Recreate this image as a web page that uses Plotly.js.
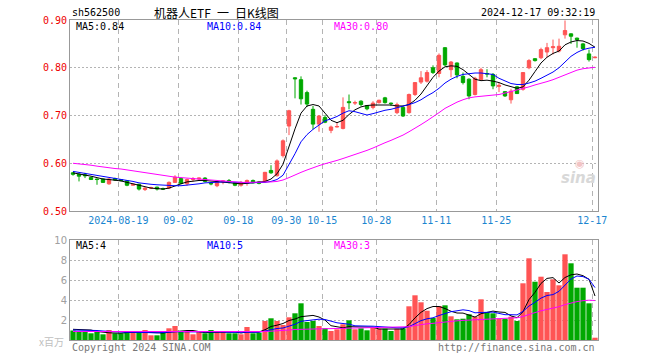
<!DOCTYPE html>
<html><head><meta charset="utf-8">
<script src="https://cdn.plot.ly/plotly-3.0.1.min.js"></script>
<style>html,body{margin:0;padding:0;background:#fff}#c{width:660px;height:360px}</style>
</head><body><div id="c"></div>
<script>
const dates = ["08-07","08-08","08-09","08-12","08-13","08-14","08-15","08-16","08-19","08-20","08-21","08-22","08-23","08-26","08-27","08-28","08-29","08-30","09-02","09-03","09-04","09-05","09-06","09-09","09-10","09-11","09-12","09-13","09-18","09-19","09-20","09-23","09-24","09-25","09-26","09-27","09-30","10-08","10-09","10-10","10-11","10-14","10-15","10-16","10-17","10-18","10-21","10-22","10-23","10-24","10-25","10-28","10-29","10-30","10-31","11-01","11-04","11-05","11-06","11-07","11-08","11-11","11-12","11-13","11-14","11-15","11-18","11-19","11-20","11-21","11-22","11-25","11-26","11-27","11-28","11-29","12-02","12-03","12-04","12-05","12-06","12-09","12-10","12-11","12-12","12-13","12-16","12-17"];
const tickDates = ["08-19","09-02","09-18","09-30","10-15","10-28","11-11","11-25","12-17"];
const tickLabels = ["2024-08-19","09-02","09-18","09-30","10-15","10-28","11-11","11-25","12-17"];

const open  = [0.580,0.577,0.576,0.570,0.567,0.567,0.557,0.568,0.566,0.563,0.554,0.556,0.545,0.548,0.550,0.547,0.548,0.560,0.568,0.557,0.566,0.567,0.569,0.558,0.553,0.561,0.564,0.559,0.554,0.558,0.564,0.561,0.562,0.585,0.574,0.616,0.678,0.779,0.775,0.748,0.713,0.682,0.696,0.669,0.676,0.673,0.729,0.726,0.730,0.721,0.717,0.727,0.737,0.726,0.706,0.717,0.706,0.744,0.770,0.772,0.800,0.788,0.842,0.796,0.810,0.782,0.776,0.744,0.775,0.788,0.786,0.761,0.750,0.733,0.760,0.755,0.800,0.819,0.821,0.833,0.842,0.835,0.869,0.871,0.862,0.850,0.829,0.821];
const high  = [0.582,0.579,0.580,0.572,0.568,0.568,0.569,0.570,0.567,0.564,0.557,0.557,0.550,0.551,0.551,0.549,0.562,0.575,0.570,0.568,0.571,0.570,0.571,0.560,0.563,0.565,0.567,0.560,0.563,0.566,0.566,0.563,0.582,0.596,0.608,0.650,0.712,0.780,0.782,0.752,0.720,0.701,0.701,0.679,0.686,0.738,0.744,0.731,0.732,0.722,0.730,0.733,0.739,0.727,0.727,0.719,0.746,0.770,0.793,0.795,0.805,0.830,0.843,0.814,0.811,0.790,0.778,0.781,0.800,0.797,0.789,0.769,0.751,0.756,0.762,0.791,0.818,0.820,0.842,0.852,0.859,0.861,0.899,0.872,0.863,0.852,0.838,0.824];
const low   = [0.574,0.562,0.569,0.565,0.555,0.559,0.555,0.563,0.562,0.552,0.553,0.543,0.542,0.546,0.543,0.544,0.546,0.559,0.556,0.553,0.562,0.563,0.560,0.554,0.550,0.556,0.558,0.552,0.551,0.553,0.558,0.556,0.560,0.578,0.572,0.612,0.659,0.736,0.723,0.718,0.671,0.666,0.684,0.663,0.675,0.671,0.713,0.722,0.719,0.711,0.713,0.725,0.725,0.720,0.703,0.697,0.704,0.741,0.766,0.769,0.787,0.780,0.803,0.780,0.778,0.765,0.734,0.742,0.773,0.780,0.755,0.749,0.739,0.725,0.745,0.752,0.797,0.813,0.818,0.822,0.828,0.832,0.861,0.850,0.842,0.836,0.813,0.820];
const close = [0.577,0.573,0.574,0.566,0.566,0.560,0.567,0.565,0.564,0.554,0.556,0.546,0.548,0.549,0.546,0.546,0.560,0.571,0.558,0.566,0.568,0.569,0.562,0.557,0.562,0.563,0.561,0.554,0.560,0.564,0.559,0.558,0.581,0.580,0.605,0.647,0.710,0.777,0.735,0.724,0.682,0.699,0.686,0.676,0.677,0.717,0.727,0.727,0.723,0.714,0.726,0.732,0.727,0.725,0.723,0.699,0.744,0.769,0.779,0.790,0.790,0.826,0.806,0.812,0.785,0.769,0.741,0.778,0.796,0.787,0.762,0.763,0.741,0.751,0.746,0.790,0.815,0.815,0.838,0.842,0.844,0.845,0.878,0.866,0.859,0.840,0.817,0.822];
const up = [false,false,false,false,false,false,true,false,false,false,true,false,true,true,false,false,true,true,false,true,true,true,false,false,true,true,false,false,true,true,false,false,true,false,true,true,true,false,false,false,false,true,false,true,true,true,false,true,false,false,true,true,false,false,true,false,true,true,true,true,false,true,false,true,false,false,false,true,true,false,false,true,false,true,false,true,true,false,true,true,true,true,true,false,false,false,false,true];

const ma5  = [0.580,0.578,0.576,0.573,0.570,0.567,0.566,0.565,0.563,0.560,0.557,0.553,0.550,0.548,0.547,0.546,0.548,0.553,0.557,0.561,0.563,0.564,0.564,0.563,0.561,0.560,0.560,0.558,0.557,0.558,0.559,0.560,0.562,0.567,0.578,0.598,0.636,0.672,0.705,0.720,0.723,0.720,0.705,0.690,0.685,0.690,0.702,0.712,0.718,0.721,0.722,0.722,0.722,0.722,0.720,0.720,0.723,0.732,0.745,0.762,0.780,0.793,0.802,0.804,0.803,0.796,0.785,0.776,0.773,0.774,0.772,0.769,0.764,0.760,0.757,0.760,0.774,0.792,0.810,0.822,0.830,0.835,0.848,0.854,0.857,0.856,0.851,0.843];
const ma10 = [0.583,0.581,0.579,0.577,0.574,0.572,0.570,0.568,0.566,0.564,0.562,0.559,0.557,0.556,0.555,0.554,0.553,0.553,0.553,0.554,0.555,0.557,0.559,0.560,0.561,0.561,0.561,0.561,0.560,0.559,0.559,0.560,0.560,0.562,0.566,0.575,0.597,0.620,0.645,0.660,0.671,0.680,0.689,0.693,0.698,0.705,0.710,0.708,0.704,0.701,0.704,0.708,0.711,0.713,0.716,0.719,0.723,0.727,0.733,0.741,0.748,0.757,0.768,0.776,0.782,0.786,0.788,0.789,0.789,0.788,0.786,0.778,0.772,0.767,0.765,0.765,0.768,0.772,0.778,0.784,0.791,0.800,0.812,0.824,0.832,0.838,0.841,0.843];
const ma30 = [0.600,0.599,0.598,0.596,0.594,0.592,0.590,0.589,0.588,0.586,0.584,0.582,0.580,0.578,0.576,0.574,0.573,0.571,0.570,0.569,0.567,0.566,0.565,0.564,0.563,0.562,0.561,0.561,0.560,0.560,0.560,0.560,0.560,0.561,0.562,0.565,0.570,0.576,0.581,0.586,0.591,0.595,0.599,0.602,0.606,0.610,0.614,0.618,0.622,0.627,0.632,0.638,0.643,0.648,0.653,0.659,0.666,0.673,0.681,0.689,0.697,0.706,0.715,0.722,0.728,0.733,0.737,0.739,0.740,0.741,0.742,0.744,0.747,0.750,0.753,0.757,0.760,0.764,0.767,0.771,0.775,0.780,0.786,0.791,0.795,0.798,0.800,0.801];

const volume = [0.95,0.8,0.8,0.67,0.8,0.57,1.0,0.67,0.67,0.8,0.8,0.8,1.0,0.47,0.47,0.8,1.17,1.4,0.8,0.8,0.57,0.8,0.67,1.0,0.8,0.8,0.67,0.67,0.57,1.3,0.67,0.73,1.9,2.17,1.9,1.5,2.27,2.67,3.67,1.8,1.9,1.4,1.17,0.9,1.07,1.57,1.97,1.07,1.17,0.97,1.2,1.13,1.13,0.9,1.13,1.17,3.37,4.47,3.77,2.93,2.2,3.4,3.47,2.37,2.07,2.13,2.57,2.33,4.07,2.8,2.67,2.13,2.13,2.33,1.9,5.67,8.17,5.83,6.33,4.8,6.07,5.47,8.57,7.67,5.23,5.23,3.67,0.23];
const vma5  = [1.07,1.07,1.06,1.0,0.85,0.75,0.72,0.7,0.68,0.75,0.78,0.76,0.8,0.75,0.7,0.7,0.78,0.86,0.93,0.95,0.95,0.87,0.73,0.77,0.77,0.8,0.8,0.8,0.7,0.8,0.78,0.8,1.03,1.35,1.48,1.65,1.95,2.1,2.33,2.38,2.46,2.3,1.99,1.43,1.29,1.22,1.33,1.32,1.35,1.35,1.28,1.1,1.12,1.07,1.1,1.1,1.54,2.21,2.77,3.14,3.35,3.35,3.15,2.87,2.7,2.69,2.52,2.29,2.63,2.78,2.89,2.8,2.76,2.41,2.23,2.83,4.04,4.77,5.66,6.16,6.24,5.7,6.25,6.52,6.6,6.43,6.07,4.4];
const vma10 = [1.0,1.0,1.0,1.0,0.95,0.9,0.85,0.8,0.78,0.77,0.77,0.75,0.76,0.72,0.72,0.75,0.8,0.82,0.82,0.82,0.83,0.82,0.8,0.85,0.83,0.8,0.77,0.77,0.74,0.8,0.78,0.78,0.9,1.05,1.15,1.2,1.37,1.57,1.87,1.95,2.05,2.08,2.05,1.88,1.72,1.65,1.58,1.42,1.37,1.39,1.38,1.36,1.3,1.26,1.22,1.22,1.33,1.66,1.94,2.12,2.22,2.45,2.68,2.83,2.92,3.02,2.94,2.72,2.75,2.74,2.79,2.66,2.53,2.53,2.51,2.86,3.4,3.77,4.19,4.45,4.54,4.87,5.5,6.1,6.4,6.34,6.07,5.24];
const vma30 = [0.85,0.85,0.85,0.84,0.84,0.84,0.83,0.83,0.83,0.83,0.82,0.82,0.82,0.82,0.81,0.81,0.81,0.81,0.81,0.81,0.8,0.8,0.8,0.8,0.8,0.8,0.8,0.8,0.8,0.8,0.8,0.8,0.85,0.88,0.9,0.95,1.0,1.05,1.08,1.1,1.12,1.13,1.13,1.14,1.15,1.17,1.2,1.22,1.24,1.24,1.24,1.25,1.25,1.25,1.26,1.27,1.33,1.45,1.55,1.62,1.67,1.75,1.83,1.88,1.92,1.96,2.0,2.03,2.08,2.1,2.13,2.15,2.17,2.2,2.22,2.35,2.58,2.74,2.92,3.04,3.2,3.33,3.54,3.72,3.84,3.93,3.98,3.95];

const RED = "#ff5454", GREEN = "#00a800";
const xs = dates.map((d, i) => i);
// dashed day lines sit just left of the candle centre in the original
const tickvals = tickDates.map(d => dates.indexOf(d) - 0.45);
const volColors = up.map(u => u ? RED : GREEN);
const mono = "DejaVu Sans Mono";

const traces = [
  {type: "candlestick", x: xs, open: open, high: high, low: low, close: close, xaxis: "x", yaxis: "y",
   increasing: {line: {color: RED, width: 1}, fillcolor: RED},
   decreasing: {line: {color: GREEN, width: 1}, fillcolor: GREEN}, hoverinfo: "skip"},
  {type: "scatter", mode: "lines", x: xs, y: ma5, line: {color: "#000000", width: 1}, xaxis: "x", yaxis: "y"},
  {type: "scatter", mode: "lines", x: xs, y: ma10, line: {color: "#0000ff", width: 1}, xaxis: "x", yaxis: "y"},
  {type: "scatter", mode: "lines", x: xs, y: ma30, line: {color: "#ff00ff", width: 1}, xaxis: "x", yaxis: "y"},
  {type: "bar", x: xs, y: volume, marker: {color: volColors, line: {width: 0}}, xaxis: "x2", yaxis: "y2"},
  {type: "scatter", mode: "lines", x: xs, y: vma5, line: {color: "#000000", width: 1}, xaxis: "x2", yaxis: "y2"},
  {type: "scatter", mode: "lines", x: xs, y: vma10, line: {color: "#0000ff", width: 1}, xaxis: "x2", yaxis: "y2"},
  {type: "scatter", mode: "lines", x: xs, y: vma30, line: {color: "#ff00ff", width: 1}, xaxis: "x2", yaxis: "y2"}
];

const gridC = "#b4b4b4", frameC = "#999999";
function px2x(p) { return (p - 70) / 528; }
function py2y(p) { return (340 - p) / 320; }
function ann(text, px, py, color, xanchor, size, family) {
  return {text: text, x: px2x(px), y: py2y(py), xref: "paper", yref: "paper", xanchor: xanchor, yanchor: "middle",
          showarrow: false, font: {family: family || mono, size: size || 10, color: color}};
}

const layout = {
  width: 660, height: 360, margin: {l: 70, r: 62, t: 20, b: 20},
  paper_bgcolor: "#ffffff", plot_bgcolor: "#ffffff", showlegend: false, bargap: 0.12, boxgap: 0.2,
  xaxis: {domain: [0, 1], anchor: "y", range: [-0.5, 87.5], tickvals: tickvals, ticktext: tickLabels,
          tickfont: {family: mono, size: 10, color: "#1a86d0"}, ticks: "", showgrid: true, gridcolor: gridC,
          griddash: "5px,4px", gridwidth: 1, showline: true, mirror: true, linecolor: frameC, linewidth: 1,
          zeroline: false, rangeslider: {visible: false}, fixedrange: true},
  yaxis: {domain: [0.403, 1], anchor: "x", range: [0.5, 0.9], tickvals: [0.5, 0.6, 0.7, 0.8, 0.9], tickformat: ".2f",
          tickfont: {family: mono, size: 10, color: "#ee0000"}, ticks: "", showgrid: true, gridcolor: gridC,
          griddash: "2px,2px", showline: true, mirror: true, linecolor: frameC, linewidth: 1, zeroline: false},
  xaxis2: {domain: [0, 1], anchor: "y2", matches: "x", range: [-0.5, 87.5], tickvals: tickvals, showticklabels: false,
           ticks: "", showgrid: true, gridcolor: gridC, griddash: "5px,4px", showline: true, mirror: true,
           linecolor: frameC, linewidth: 1, zeroline: false},
  yaxis2: {domain: [0, 0.3125], anchor: "x2", range: [0, 10], tickvals: [2, 4, 6, 8, 10],
           tickfont: {family: "DejaVu Sans", size: 10, color: "#a0a0a0"}, ticks: "", showgrid: true, gridcolor: gridC,
           griddash: "2px,2px", showline: true, mirror: true, linecolor: frameC, linewidth: 1, zeroline: false},
  annotations: [
    ann("sh562500", 70, 12, "#000", "left"),
    ann("机器人ETF\u2002一\u2002日K线图", 216, 12, "#000", "center", 12, "Noto Sans CJK SC"),
    ann("2024-12-17 09:32:19", 597, 12, "#000", "right"),
    ann("MA5:0.84", 74, 27, "#000000", "left"),
    ann("MA10:0.84", 205, 27, "#0000ff", "left"),
    ann("MA30:0.80", 332, 27, "#ff00ff", "left"),
    ann("MA5:4", 74, 245, "#000000", "left"),
    ann("MA10:5", 205, 245, "#0000ff", "left"),
    ann("MA30:3", 332, 245, "#ff00ff", "left"),
    ann("x百万", 66, 341, "#c0c0c0", "right", 10, "Noto Sans CJK SC"),
    ann("Copyright 2024 SINA.COM", 70, 347, "#777777", "left"),
    ann("http://finance.sina.com.cn", 597, 347, "#777777", "right"),
    {text: "<b><i>sina</i></b>", x: px2x(578), y: py2y(178), xref: "paper", yref: "paper", xanchor: "center",
     yanchor: "middle", showarrow: false, font: {family: "DejaVu Sans", size: 15, color: "#d8d8d8"}},
    {text: "◉", x: px2x(580), y: py2y(163), xref: "paper", yref: "paper", xanchor: "center",
     yanchor: "middle", showarrow: false, font: {family: "DejaVu Sans", size: 11, color: "#f2c4c4"}}
  ]
};

Plotly.newPlot("c", traces, layout, {staticPlot: true, displayModeBar: false});
</script>
</body></html>
